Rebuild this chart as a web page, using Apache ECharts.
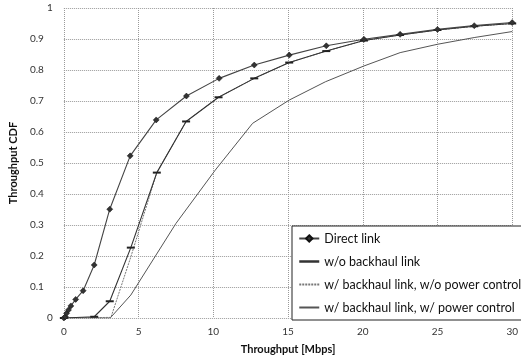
<!DOCTYPE html>
<html><head><meta charset="utf-8">
<script src="https://cdn.jsdelivr.net/npm/echarts@6/dist/echarts.min.js"></script>
<style>html,body{margin:0;padding:0;background:#fff}#c{width:521px;height:361px}</style>
</head><body><div id="c"></div>
<script>
const seriesNames = ['Direct link','w/o backhaul link','w/ backhaul link, w/o power control','w/ backhaul link, w/ power control'];
const xTicks = [0,5,10,15,20,25,30];
const yTicks = [0,0.1,0.2,0.3,0.4,0.5,0.6,0.7,0.8,0.9,1];

const directX = [0,0.1,0.18,0.31,0.47,0.79,1.29,2.03,3.07,4.44,6.18,8.2,10.39,12.74,15.08,17.56,20.08,22.5,25.0,27.46,30];
const directY = [0,0.004,0.015,0.026,0.039,0.06,0.088,0.171,0.351,0.523,0.639,0.716,0.773,0.816,0.848,0.878,0.899,0.915,0.931,0.943,0.953];

const woBackX = [0,2.03,3.07,4.48,6.22,8.18,10.35,12.74,15.08,17.56,20.08,22.5,25.0,27.46,30];
const woBackY = [0,0.004,0.054,0.227,0.469,0.634,0.712,0.773,0.824,0.861,0.895,0.913,0.929,0.941,0.95];

const wBackNoPcX = [0,3.15,4.5,6.22,8.18,10.35,12.74,15.08,17.56,20.08,22.5,25.0,27.46,30];
const wBackNoPcY = [0,0.002,0.2,0.469,0.634,0.712,0.773,0.824,0.861,0.895,0.913,0.929,0.941,0.95];

const wBackPcX = [0,3.1,4.48,7.5,10.13,12.63,15.08,17.5,20.08,22.5,25.0,27.5,30];
const wBackPcY = [0,0,0.074,0.305,0.477,0.628,0.703,0.762,0.813,0.856,0.883,0.905,0.924];

const zip = (xs, ys) => xs.map((x, i) => [x, ys[i]]);
const FONT = 'Lato';
const grid = {type:'dotted', color:'#9a9a9a', width:1};
const hidden = {opacity:0};

const chart = echarts.init(document.getElementById('c'));
chart.setOption({
  animation:false,
  textStyle:{fontFamily:FONT},
  grid:{left:55, right:6, top:8, bottom:43},
  xAxis:{type:'value', min:0, max:30, interval:5,
    name:'Throughput [Mbps]', nameLocation:'middle', nameGap:26,
    nameTextStyle:{fontFamily:FONT, fontWeight:'bold', fontSize:11, color:'#111'},
    axisLine:{show:false}, axisTick:{show:false},
    axisLabel:{fontFamily:FONT, fontSize:10, color:'#333', margin:9,
      formatter:v => xTicks.includes(v) ? String(v) : ''},
    splitLine:{show:true, lineStyle:grid}},
  yAxis:{type:'value', min:0, max:1, interval:0.1,
    name:'Throughput CDF', nameLocation:'middle', nameGap:40, nameRotate:90,
    nameTextStyle:{fontFamily:FONT, fontWeight:'bold', fontSize:11, color:'#111'},
    axisLine:{show:false}, axisTick:{show:false},
    axisLabel:{fontFamily:FONT, fontSize:10, color:'#333', margin:11,
      formatter:v => {
        const t = yTicks.find(k => Math.abs(k - v) < 1e-6);
        if (t === undefined) return '';
        if (t === 0 || t === 1) return String(t);
        return '{d|' + t.toFixed(1) + '}';
      },
      rich:{d:{fontFamily:FONT, fontSize:10, color:'#333', padding:[0,9,0,0]}}},
    splitLine:{show:true, lineStyle:grid}},
  legend:{orient:'vertical', left:292, top:226, itemWidth:20, itemHeight:8, itemGap:10,
    padding:[6,5,6,6], backgroundColor:'#fff', borderColor:'#222', borderWidth:1, borderRadius:0,
    textStyle:{fontFamily:FONT, fontSize:12.5, color:'#111'},
    data:[
      {name:seriesNames[0]},
      {name:seriesNames[1], itemStyle:hidden, lineStyle:{width:2.5, color:'#333'}},
      {name:seriesNames[2], itemStyle:hidden},
      {name:seriesNames[3], itemStyle:hidden}
    ]},
  series:[
    {name:seriesNames[0], type:'line', data:zip(directX, directY), symbol:'diamond', symbolSize:6,
      itemStyle:{color:'#333', borderColor:'#111', borderWidth:0.5}, lineStyle:{color:'#444', width:1.1}, z:5},
    {name:seriesNames[1], type:'line', data:zip(woBackX, woBackY), symbol:'rect', symbolSize:[8,2],
      itemStyle:{color:'#222'}, lineStyle:{color:'#333', width:1.1}, z:4},
    {name:seriesNames[2], type:'line', data:zip(wBackNoPcX, wBackNoPcY), symbol:'none',
      itemStyle:{color:'#777'}, lineStyle:{color:'#777', width:1, type:[2,1]}, z:3},
    {name:seriesNames[3], type:'line', data:zip(wBackPcX, wBackPcY), symbol:'none',
      itemStyle:{color:'#555'}, lineStyle:{color:'#555', width:1}, z:2}
  ]
});
</script></body></html>
